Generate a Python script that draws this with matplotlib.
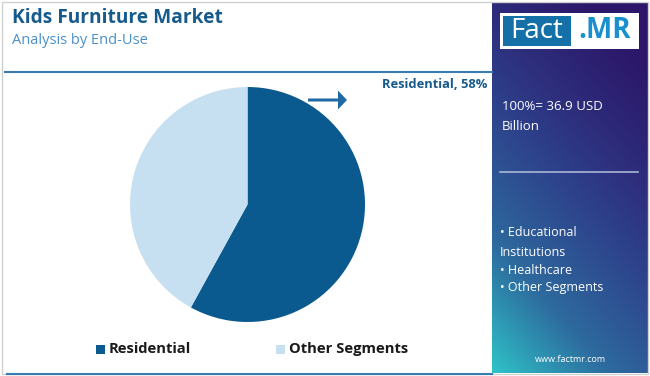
import matplotlib
matplotlib.use("Agg")
import matplotlib.pyplot as plt
import numpy as np
from matplotlib.patches import Rectangle, FancyArrow
from matplotlib.colors import LinearSegmentedColormap

categories = ["Residential", "Other Segments"]
shares = [58, 42]
colors = ["#0b5a8f", "#c6e0f2"]
title = "Kids Furniture Market"
subtitle = "Analysis by End-Use"
total_text = "100%= 36.9 USD\nBillion"
other_list = ["• Educational", "Institutions", "• Healthcare", "• Other Segments"]

W, H = 650, 376
fig = plt.figure(figsize=(6.5, 3.76), dpi=100)
fig.patch.set_facecolor("white")

def fx(x): return x / W
def fy(y): return 1 - y / H

FONT = "Open Sans"

# figure border
fig.add_artist(Rectangle((fx(2), fy(374)), fx(646), 372 / H, transform=fig.transFigure,
                         fill=False, edgecolor="#d0d0d0", lw=1))
# header line
fig.add_artist(plt.Line2D([fx(5), fx(492)], [fy(72), fy(72)], transform=fig.transFigure,
                          color="#3b7bb0", lw=1.5))
# bottom line
fig.add_artist(plt.Line2D([fx(7), fx(492)], [fy(374), fy(374)], transform=fig.transFigure,
                          color="#3b7bb0", lw=1.5))

fig.text(fx(12), fy(18), title, fontsize=13.8, fontweight="bold", color="#175a8c",
         family=FONT, va="center", ha="left")
fig.text(fx(12), fy(40), subtitle, fontsize=10.5, color="#4a90c8",
         family=FONT, va="center", ha="left")

# pie
cx, cy, r = 247.5, 204.5, 117.5
ax = fig.add_axes([fx(cx - r), fy(cy + r), 2 * r / W, 2 * r / H])
ax.pie(shares, colors=colors, startangle=90, counterclock=False,
       wedgeprops=dict(linewidth=0))
ax.set_aspect("auto")
ax.set_xlim(-1, 1); ax.set_ylim(-1, 1)
ax.axis("off")

# annotation arrow and label
fig.add_artist(FancyArrow(fx(308), fy(100), fx(30), 0, width=0.008, head_width=0.05,
                          head_length=fx(9), length_includes_head=False,
                          transform=fig.transFigure, color="#1f6aa5", lw=0))
fig.text(fx(487), fy(85), f"{categories[0]}, {shares[0]}%", fontsize=9.3,
         fontweight="bold", color="#175a8c", family=FONT, ha="right", va="center")

# legend
lx = [96, 276]
for i, (c, col) in enumerate(zip(categories, colors)):
    fig.add_artist(Rectangle((fx(lx[i]), fy(354)), fx(9), 9 / H, transform=fig.transFigure,
                             color=col, lw=0))
    fig.text(fx(lx[i] + 13), fy(349), c, fontsize=10.6, fontweight="bold",
             color="#1a1a1a", family=FONT, va="center", ha="left")

# right panel with gradient
px0, py0, px1, py1 = 492, 3, 648, 373
pax = fig.add_axes([fx(px0), fy(py1), (px1 - px0) / W, (py1 - py0) / H])
nx, ny = 200, 400
X, Y = np.meshgrid(np.linspace(0, 1, nx), np.linspace(0, 1, ny))
t = np.clip(0.75 * Y + 0.35 * (1 - X) - 0.1, 0, 1)
t = t ** 1.3
cmap = LinearSegmentedColormap.from_list("g", ["#2c176a", "#2e3f8a", "#2d6a9e", "#2fc3c8"])
pax.imshow(t, cmap=cmap, aspect="auto", extent=[0, 1, 1, 0], interpolation="bilinear")
pax.set_xlim(0, 1); pax.set_ylim(1, 0)
pax.axis("off")

# logo
fig.add_artist(Rectangle((fx(500), fy(49)), fx(139), 36 / H, transform=fig.transFigure,
                         facecolor="white", edgecolor="none"))
fig.add_artist(Rectangle((fx(503), fy(46)), fx(68), 30 / H, transform=fig.transFigure,
                         facecolor="#1670a8", edgecolor="none"))
fig.text(fx(537), fy(31), "Fact", fontsize=20, color="white", family=FONT,
         ha="center", va="center")
fig.text(fx(605), fy(31), ".MR", fontsize=20, color="#1a8fd0", family=FONT,
         fontweight="bold", ha="center", va="center")

fig.text(fx(502), fy(117), total_text, fontsize=9.5, color="white", family=FONT,
         ha="left", va="center", linespacing=1.7)
fig.add_artist(plt.Line2D([fx(500), fx(638)], [fy(172), fy(172)], transform=fig.transFigure,
                          color="#a9b6d6", lw=1.2))
ys = [233, 252, 270, 287]
for yy, s in zip(ys, other_list):
    fig.text(fx(500), fy(yy), s, fontsize=9, color="white", family=FONT,
             ha="left", va="center")
fig.text(fx(570), fy(359), "www.factmr.com", fontsize=6.5, color="white", family=FONT,
         ha="center", va="center")

fig.savefig("out.png", dpi=100, facecolor="white")
